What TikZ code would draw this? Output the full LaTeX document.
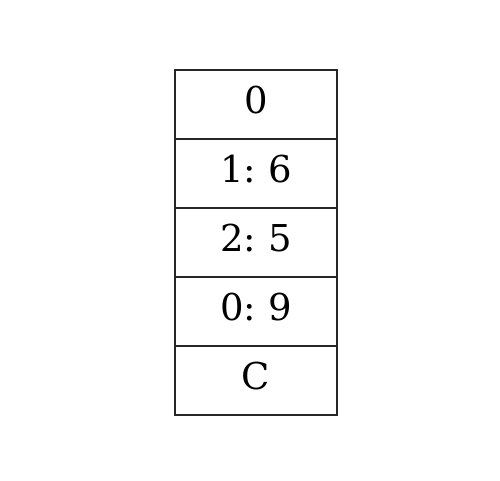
\documentclass[tikz,border=0pt]{standalone}
\usepackage{fontspec}
\setmainfont{DejaVu Serif}
\begin{document}
\begin{tikzpicture}[x=1pt,y=-1pt,
  cell/.style={draw=black!85,line width=2.2pt,minimum width=162pt,minimum height=69pt,inner sep=0pt,anchor=north west},
  lab/.style={font=\fontsize{37}{40}\selectfont,inner sep=0pt,anchor=center}]
\useasboundingbox (0,0) rectangle (500,480);
\node[cell] (c0) at (174,69) {};
\node[cell] (c1) at (174,138) {};
\node[cell] (c2) at (174,207) {};
\node[cell] (c3) at (174,276) {};
\node[cell] (c4) at (174,345) {};
\node[lab] (t0) at ([yshift=4.5pt]c0.center) {0};
\node[lab] (t1) at ([yshift=4.5pt]c1.center) {1:\hspace{-0.1em} 6};
\node[lab] (t2) at ([yshift=4.5pt]c2.center) {2:\hspace{-0.1em} 5};
\node[lab] (t3) at ([yshift=4.5pt]c3.center) {0:\hspace{-0.1em} 9};
\node[lab] (t4) at ([yshift=4.5pt]c4.center) {C};
\end{tikzpicture}
\end{document}
